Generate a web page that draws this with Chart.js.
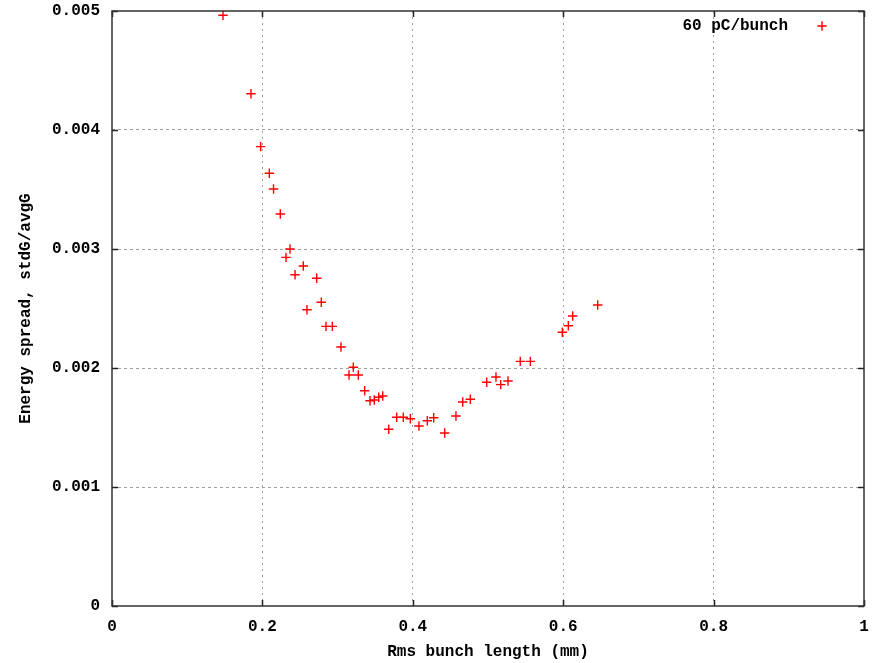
<!DOCTYPE html>
<html>
<head>
<meta charset="utf-8">
<script src="https://cdn.jsdelivr.net/npm/chart.js@4.4.1/dist/chart.umd.min.js"></script>
<style>
  html, body { margin: 0; padding: 0; background: #ffffff; }
  #wrap { width: 882px; height: 663px; }
</style>
</head>
<body>
<div id="wrap"><canvas id="c" width="882" height="663"></canvas></div>
<script>
// ---- data ----
const seriesLabel = "60 pC/bunch";
const bunchLength = [
  0.1476, 0.1848, 0.1977, 0.2092, 0.2148, 0.2238, 0.2367, 0.2314, 0.2544, 0.2434,
  0.2722, 0.2783, 0.2593, 0.2846, 0.2930, 0.3045, 0.3209, 0.3152, 0.3275, 0.3360,
  0.3431, 0.3488, 0.3547, 0.3600, 0.3680, 0.3786, 0.3874, 0.3967, 0.4082, 0.4193,
  0.4278, 0.4424, 0.4574, 0.4664, 0.4765, 0.4983, 0.5106, 0.5169, 0.5266, 0.5429,
  0.5563, 0.5988, 0.6068, 0.6126, 0.6459
];
const energySpread = [
  0.004964, 0.004305, 0.003860, 0.003636, 0.003504, 0.003294, 0.003000, 0.002930, 0.002857, 0.002784,
  0.002754, 0.002552, 0.002490, 0.002350, 0.002350, 0.002176, 0.002006, 0.001941, 0.001941, 0.001809,
  0.001725, 0.001731, 0.001754, 0.001765, 0.001485, 0.001586, 0.001586, 0.001574, 0.001513, 0.001557,
  0.001582, 0.001454, 0.001597, 0.001714, 0.001737, 0.001880, 0.001924, 0.001860, 0.001891, 0.002056,
  0.002056, 0.002300, 0.002355, 0.002437, 0.002529
];
const xTicks = [0, 0.2, 0.4, 0.6, 0.8, 1];
const xTickLabels = ["0", "0.2", "0.4", "0.6", "0.8", "1"];
const yTicks = [0, 0.001, 0.002, 0.003, 0.004, 0.005];
const yTickLabels = ["0", "0.001", "0.002", "0.003", "0.004", "0.005"];
const xTitle = "Rms bunch length (mm)";
const yTitle = "Energy spread, stdG/avgG";

// ---- rendering ----
const FONT = { family: "'Liberation Mono', 'DejaVu Sans Mono', monospace", size: 16, weight: 'bold', lineHeight: 1.2 };
const points = bunchLength.map((x, i) => ({ x: x, y: energySpread[i] }));

const frameAndTicks = {
  id: 'frameAndTicks',
  afterDatasetsDraw(chart) {
    const { ctx, chartArea: a, scales } = chart;
    ctx.save();
    ctx.strokeStyle = '#222222';
    ctx.lineWidth = 1.5;
    const L = 6;
    ctx.beginPath();
    xTicks.forEach(v => {
      const px = Math.round(scales.x.getPixelForValue(v)) + 0.5;
      ctx.moveTo(px, a.bottom); ctx.lineTo(px, a.bottom - L);
      ctx.moveTo(px, a.top); ctx.lineTo(px, a.top + L);
    });
    yTicks.forEach(v => {
      const py = Math.round(scales.y.getPixelForValue(v)) + 0.5;
      ctx.moveTo(a.left, py); ctx.lineTo(a.left + L, py);
      ctx.moveTo(a.right, py); ctx.lineTo(a.right - L, py);
    });
    ctx.stroke();
    ctx.strokeStyle = '#333333';
    ctx.lineWidth = 1.5;
    ctx.strokeRect(a.left, a.top, a.right - a.left, a.bottom - a.top);
    ctx.restore();
  },
  afterDraw(chart) {
    const { ctx, chartArea: a } = chart;
    const ds = chart.data.datasets[0];
    ctx.save();
    ctx.font = `bold ${FONT.size}px ${FONT.family}`;
    ctx.fillStyle = '#000000';
    ctx.textAlign = 'right';
    ctx.textBaseline = 'middle';
    const ly = a.top + 15;
    ctx.fillText(ds.label, a.right - 76, ly);
    const cx = a.right - 42;
    ctx.strokeStyle = ds.borderColor;
    ctx.lineWidth = ds.borderWidth;
    ctx.beginPath();
    ctx.moveTo(cx - 4.7, ly); ctx.lineTo(cx + 4.7, ly);
    ctx.moveTo(cx, ly - 4.7); ctx.lineTo(cx, ly + 4.7);
    ctx.stroke();
    ctx.restore();
  }
};

new Chart(document.getElementById('c'), {
  type: 'scatter',
  data: {
    datasets: [{
      label: seriesLabel,
      data: points,
      pointStyle: 'cross',
      pointRadius: 4.7,
      pointHoverRadius: 4.7,
      borderColor: '#ff0000',
      backgroundColor: '#ff0000',
      borderWidth: 1.4
    }]
  },
  options: {
    responsive: false,
    animation: false,
    events: [],
    layout: { padding: { left: 0, top: 11, right: 18, bottom: 0 } },
    plugins: { legend: { display: false }, tooltip: { enabled: false } },
    scales: {
      x: {
        type: 'linear', min: 0, max: 1,
        afterBuildTicks: s => { s.ticks = xTicks.map(v => ({ value: v })); },
        afterFit: s => { s.height = 57; s.paddingLeft = 0; s.paddingRight = 0; },
        ticks: {
          color: '#000', font: FONT, padding: 11, maxRotation: 0,
          callback: (v) => xTickLabels[xTicks.findIndex(t => Math.abs(t - v) < 1e-9)]
        },
        grid: {
          color: (c) => (c.tick && (c.tick.value === 0 || c.tick.value === 1)) ? 'rgba(0,0,0,0)' : '#a0a0a0',
          lineWidth: 1, drawTicks: false
        },
        border: { display: false, dash: [2, 4] },
        title: { display: true, text: xTitle, color: '#000', font: FONT, padding: { top: 0, bottom: 1.4 } }
      },
      y: {
        type: 'linear', min: 0, max: 0.005,
        afterBuildTicks: s => { s.ticks = yTicks.map(v => ({ value: v })); },
        afterFit: s => { s.width = 112; s.paddingTop = 0; s.paddingBottom = 0; },
        ticks: {
          color: '#000', font: FONT, padding: 12,
          callback: (v) => yTickLabels[yTicks.findIndex(t => Math.abs(t - v) < 1e-12)]
        },
        grid: {
          color: (c) => (c.tick && (c.tick.value === 0 || Math.abs(c.tick.value - 0.005) < 1e-12)) ? 'rgba(0,0,0,0)' : '#a0a0a0',
          lineWidth: 1, drawTicks: false
        },
        border: { display: false, dash: [3, 3] },
        title: { display: true, text: yTitle, color: '#000', font: FONT, padding: { top: 16.4, bottom: 0 } }
      }
    }
  },
  plugins: [frameAndTicks]
});
</script>
</body>
</html>
